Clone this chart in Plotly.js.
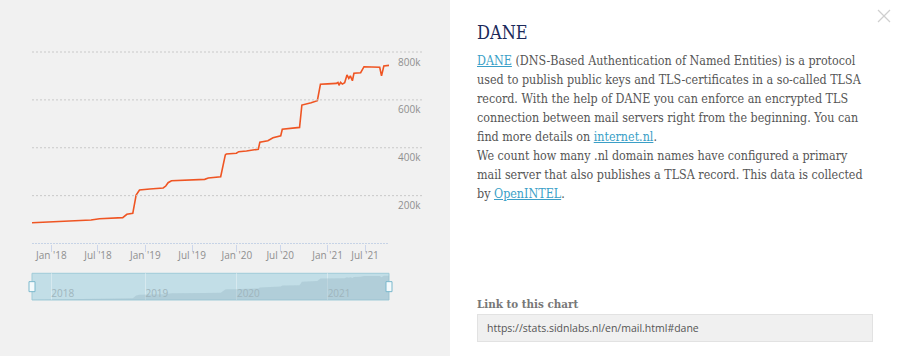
<!DOCTYPE html>
<html><head><meta charset="utf-8">
<script src="https://cdn.plot.ly/plotly-3.0.1.min.js"></script>
<style>
html,body{margin:0;padding:0;width:900px;height:356px;overflow:hidden;background:#f1f1f1;}
#chart{position:absolute;left:0;top:0;width:450px;height:356px;}
#panel{position:absolute;left:450px;top:0;width:450px;height:356px;background:#fff;}
#ttl{position:absolute;left:27px;top:22px;font-family:"DejaVu Serif Condensed","DejaVu Serif",serif;font-stretch:condensed;font-size:18px;color:#1c2a5a;}
#txt{position:absolute;left:27px;top:51px;font-family:"DejaVu Serif Condensed","DejaVu Serif",serif;font-stretch:condensed;font-size:12.4px;line-height:19px;color:#555;white-space:nowrap;}
#txt a{color:#3a9fc7;text-decoration:underline;}
#lnk{position:absolute;left:27px;top:297px;font-family:"DejaVu Serif Condensed","DejaVu Serif",serif;font-stretch:condensed;font-size:11.5px;font-weight:bold;color:#777;}
#box{position:absolute;left:27px;top:314px;width:396px;height:28px;background:#f0f0f0;border:1px solid #e2e2e2;box-sizing:border-box;font-family:"Open Sans",sans-serif;font-size:10.5px;color:#555;line-height:26px;padding-left:9px;}
#close{position:absolute;left:427px;top:9px;}
</style></head>
<body>
<div id="chart"></div>
<div id="panel">
<svg id="close" width="14" height="14"><line x1="1" y1="1" x2="13" y2="13" stroke="#cfcfcf" stroke-width="1.2"/><line x1="13" y1="1" x2="1" y2="13" stroke="#cfcfcf" stroke-width="1.2"/></svg>
<div id="ttl">DANE</div>
<div id="txt"><a>DANE</a> (DNS-Based Authentication of Named Entities) is a protocol<br>used to publish public keys and TLS-certificates in a so-called TLSA<br>record. With the help of DANE you can enforce an encrypted TLS<br>connection between mail servers right from the beginning. You can<br>find more details on <a>internet.nl</a>.<br>We count how many .nl domain names have configured a primary<br>mail server that also publishes a TLSA record. This data is collected<br>by <a>OpenINTEL</a>.</div>
<div id="lnk">Link to this chart</div>
<div id="box">https://stats.sidnlabs.nl/en/mail.html#dane</div>
</div>
<script>
const dates = ['2017-10-18','2018-01-01','2018-06-04','2018-07-07','2018-10-05','2018-10-21','2018-11-13','2018-11-26','2018-12-09',
'2019-01-18','2019-03-11','2019-03-21','2019-03-30','2019-04-12','2019-08-19','2019-09-12','2019-10-26','2019-10-30','2019-11-17','2019-11-21','2019-12-30',
'2020-01-08','2020-02-07','2020-02-20','2020-04-01','2020-04-07','2020-04-13','2020-05-14','2020-06-03','2020-06-29','2020-07-03','2020-07-09','2020-09-14','2020-09-23','2020-10-10','2020-10-29','2020-11-22','2020-12-04',
'2021-01-01','2021-02-04','2021-02-10','2021-02-14','2021-02-20','2021-02-27','2021-04-13','2021-04-22','2021-04-29','2021-05-05','2021-05-13','2021-05-19','2021-06-14','2021-06-27','2021-08-27','2021-09-03','2021-09-12','2021-10-02'];
const domains = [87000,91000,98000,103500,108000,122000,126000,202000,223500,
227500,232000,240000,254000,262000,268000,273500,278000,279000,370000,374000,377000,
383500,386500,389300,393500,394000,423000,429500,442000,449000,450000,477000,485000,578500,581500,588000,596500,665000,
667000,669000,673000,661000,673000,666000,672000,704000,690000,700000,680000,711000,713500,738500,736000,700000,741500,744000];
const xTickVals = ['2018-01-01','2018-07-01','2019-01-01','2019-07-01','2020-01-01','2020-07-01','2021-01-01','2021-07-01'];
const xTickText = ["Jan '18","Jul '18","Jan '19","Jul '19","Jan '20","Jul '20","Jan '21","Jul '21"];
const yTickVals = [200000,400000,600000,800000];
const yTickText = ['200k','400k','600k','800k'];
const navYearVals = ['2018-01-01','2019-01-01','2020-01-01','2021-01-01'];
const navYearText = ['2018','2019','2020','2021'];
const gaps = [['2019-09-01','2019-09-11'],['2020-03-01','2020-03-15'],['2021-03-01','2021-04-06']];

const xRange = ['2017-10-18','2021-10-02'];
const yMax = 800000;
const breaks = gaps.map(g => ({bounds: g}));
const mainBottom = 0.2278, navTop = 0.1077;

const shapes = [];
yTickVals.forEach(v => shapes.push({type:'line', xref:'x domain', yref:'y domain', x0:0, x1:1.094, y0:v/yMax, y1:v/yMax,
  line:{color:'#c9c9c9', width:1, dash:'2px,2px'}}));
shapes.push({type:'line', xref:'x domain', yref:'y domain', x0:0, x1:1, y0:0, y1:0, line:{color:'#c6d3e6', width:1, dash:'2px,1px'}});
shapes.push({type:'rect', xref:'paper', yref:'paper', x0:0, x1:1, y0:0, y1:navTop, layer:'below', fillcolor:'#c2dee7', line:{color:'#9fcbd8', width:1}});
[0,1].forEach(a => shapes.push({type:'rect', xref:'paper', yref:'paper', xsizemode:'pixel', ysizemode:'pixel', xanchor:a, yanchor:navTop/2,
  x0:-3, x1:3, y0:-5, y1:5, fillcolor:'#f4fafc', line:{color:'#7bb8cc', width:1}}));

const data = [
  {x:dates, y:domains, type:'scatter', mode:'lines', line:{color:'#ef5523', width:1.6}, hoverinfo:'skip', xaxis:'x', yaxis:'y'},
  {x:dates, y:domains, type:'scatter', mode:'lines', fill:'tozeroy', line:{width:0, color:'rgba(0,0,0,0)'}, fillcolor:'rgba(150,182,195,0.38)', hoverinfo:'skip', xaxis:'x2', yaxis:'y2'}
];
const layout = {
  width:450, height:356, margin:{l:32, r:61, t:52, b:56},
  paper_bgcolor:'#f1f1f1', plot_bgcolor:'rgba(0,0,0,0)', showlegend:false,
  font:{family:'"Open Sans", sans-serif', color:'#999'},
  xaxis:{type:'date', range:xRange, rangebreaks:breaks, anchor:'y', tickvals:xTickVals, ticktext:xTickText,
    ticks:'outside', ticklen:7, tickcolor:'#ccd6eb', tickwidth:1, showgrid:false, showline:false, zeroline:false,
    tickfont:{size:10, color:'#8f8f8f'}, ticklabelstandoff:-5},
  yaxis:{domain:[mainBottom,1], range:[0,yMax], side:'right', tickvals:yTickVals, ticktext:yTickText, showgrid:false, zeroline:false,
    showline:false, ticks:'', ticklabelshift:10, ticklabelstandoff:8, tickfont:{size:10, color:'#8f8f8f'}},
  xaxis2:{type:'date', range:xRange, rangebreaks:breaks, anchor:'y2', tickvals:navYearVals, ticktext:navYearText,
    showgrid:true, gridcolor:'rgba(255,255,255,0.35)', ticks:'', ticklabelposition:'inside right', showline:false, zeroline:false,
    tickfont:{size:10, color:'#9fb5bd'}, ticklabelstandoff:-5},
  yaxis2:{domain:[0,navTop], range:[80000,810000], visible:false, fixedrange:true},
  shapes:shapes
};
Plotly.newPlot('chart', data, layout, {displayModeBar:false, staticPlot:true});
</script>
</body></html>
